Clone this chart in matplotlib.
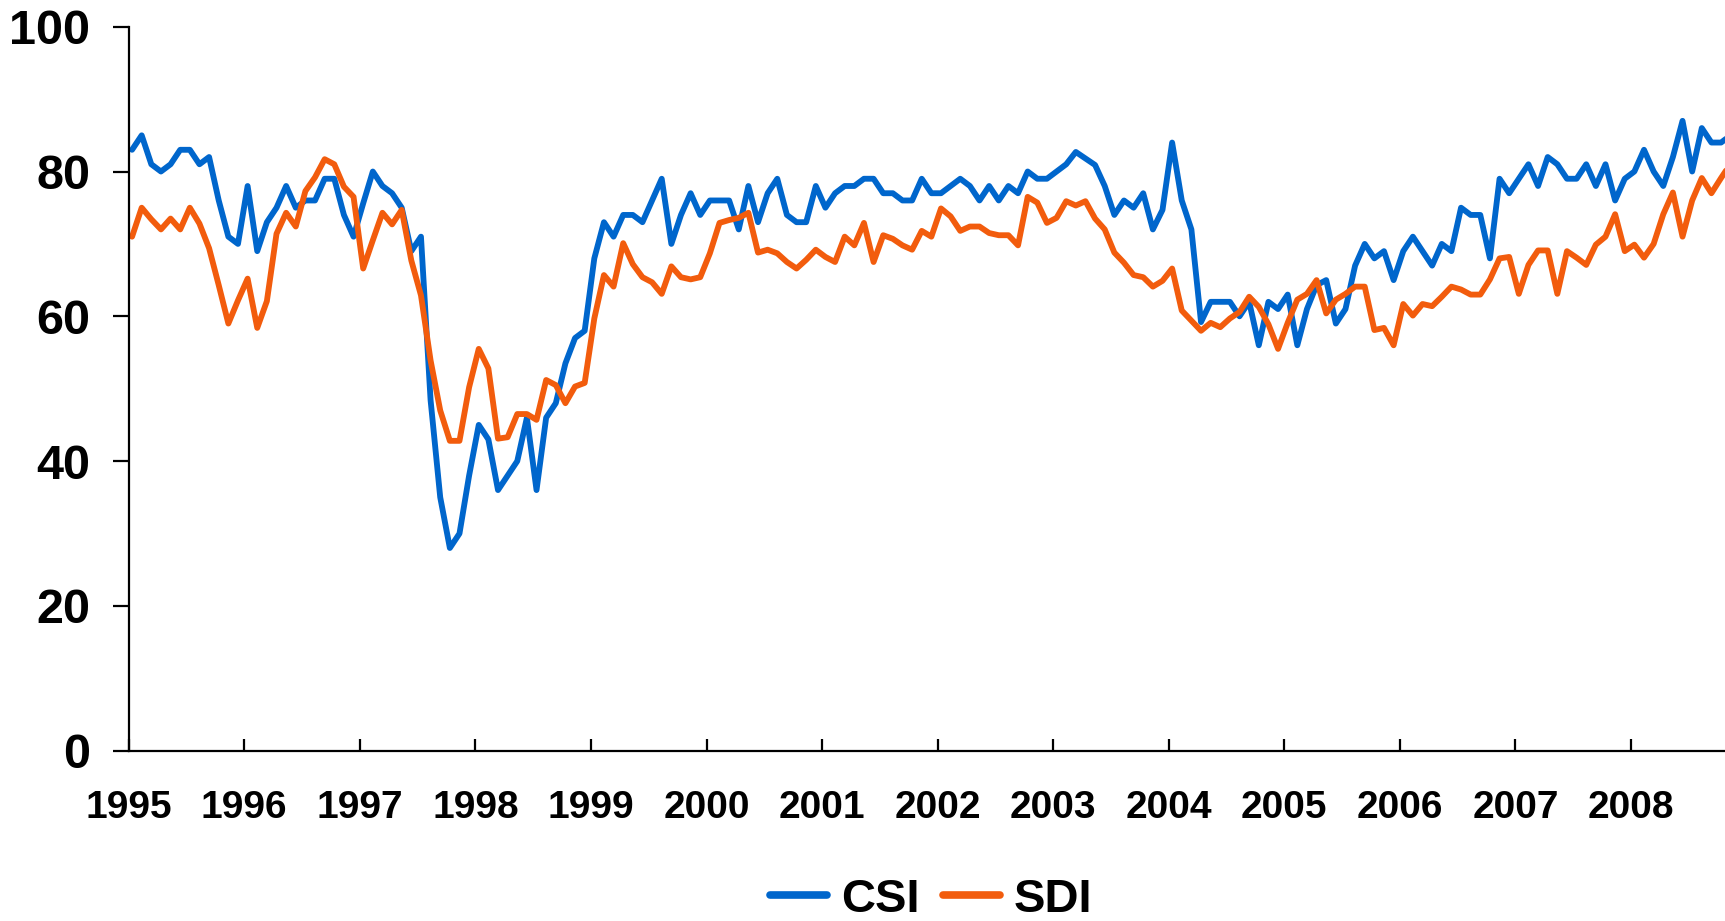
import numpy as np
import matplotlib
matplotlib.use("Agg")
import matplotlib.pyplot as plt
from matplotlib.font_manager import FontProperties

# ---- data (monthly, Jan 1995 onward) ----
years = ["1995", "1996", "1997", "1998", "1999", "2000", "2001",
         "2002", "2003", "2004", "2005", "2006", "2007", "2008"]

csi = [
    83, 85, 81, 80, 81, 83, 83, 81, 82, 76, 71, 70,            # 1995
    78, 69, 73, 75, 78, 75, 76, 76, 79, 79, 74, 71,            # 1996
    75.6, 80, 78, 77, 75, 69, 71, 48.4, 35, 28, 30, 38,        # 1997
    45, 43, 36, 38, 40, 46, 36, 46, 48, 53.5, 57, 58,          # 1998
    68, 73, 71, 74, 74, 73, 76, 79, 70, 74, 77, 74,            # 1999
    76, 76, 76, 72, 78, 73, 77, 79, 74, 73, 73, 78,            # 2000
    75, 77, 78, 78, 79, 79, 77, 77, 76, 76, 79, 77,            # 2001
    77, 78, 79, 78, 76, 78, 76, 78, 77, 80, 79, 79,            # 2002
    80, 81, 82.7, 81.8, 80.9, 78, 74, 76, 75, 77, 72, 74.7,    # 2003
    84, 76, 72, 59.2, 62, 62, 62, 60, 62, 56, 62, 61,          # 2004
    63, 56, 61, 64.3, 65, 59, 61, 67, 70, 68, 69, 65,          # 2005
    69, 71, 69, 67, 70, 69, 75, 74, 74, 68, 79, 77,            # 2006
    79, 81, 78, 82, 81, 79, 79, 81, 78, 81, 76, 79,            # 2007
    80, 83, 80, 78, 82, 87, 80, 86, 84, 84, 85,                # 2008
]

sdi = [
    71, 75, 73.4, 72, 73.5, 72, 75, 72.8, 69.4, 64.3, 59, 62.2,
    65.2, 58.4, 62.1, 71.4, 74.3, 72.4, 77.3, 79.2, 81.7, 81, 77.9, 76.5,
    66.6, 70.5, 74.3, 72.7, 74.7, 67.7, 62.9, 53.9, 47, 42.8, 42.8, 50.2,
    55.5, 52.8, 43.1, 43.3, 46.5, 46.5, 45.7, 51.2, 50.5, 48, 50.3, 50.8,
    59.7, 65.7, 64.1, 70.1, 67.2, 65.4, 64.7, 63.1, 66.9, 65.4, 65.1, 65.4,
    68.7, 72.9, 73.3, 73.6, 74.3, 68.8, 69.2, 68.7, 67.5, 66.6, 67.8, 69.2,
    68.2, 67.5, 71, 69.8, 72.9, 67.5, 71.2, 70.7, 69.8, 69.2, 71.8, 71,
    74.9, 73.8, 71.8, 72.4, 72.4, 71.5, 71.2, 71.2, 69.8, 76.5, 75.7, 72.9,
    73.6, 75.9, 75.3, 75.9, 73.5, 72, 68.8, 67.4, 65.7, 65.4, 64.1, 64.9,
    66.6, 60.8, 59.4, 58, 59.1, 58.5, 59.7, 60.6, 62.7, 61.3, 58.9, 55.5,
    59.1, 62.3, 63.1, 65, 60.4, 62.3, 63.1, 64.1, 64.1, 58.1, 58.4, 56,
    61.7, 60.1, 61.7, 61.4, 62.7, 64.1, 63.7, 63, 63, 65.1, 68, 68.2,
    63.1, 67.1, 69.1, 69.1, 63.1, 69, 68.1, 67.1, 69.9, 71, 74.1, 69,
    69.9, 68.1, 70, 74.1, 77.1, 71, 76, 79.1, 77, 79.1, 81.1,
]

series_names = ["CSI", "SDI"]
colors = ["#0066CC", "#F25C0D"]

# ---- plotting ----
plt.rcParams['font.family'] = ['Liberation Sans', 'DejaVu Sans']

fig = plt.figure(figsize=(17.25, 9.21), dpi=100)
ax = fig.add_axes([0.0746, 0.1849, 1 - 0.0746, 0.971 - 0.1849])

offset = 0.35
x = np.arange(len(csi)) + offset
for vals, name, c in zip([csi, sdi], series_names, colors):
    ax.plot(x, vals, color=c, lw=4.2, label=name,
            solid_joinstyle='round', solid_capstyle='round')

ax.set_ylim(0, 100)
ax.set_xlim(0, 165.76)

ax.spines['top'].set_visible(False)
ax.spines['right'].set_visible(False)
for s in ['left', 'bottom']:
    ax.spines[s].set_linewidth(1.6)

ax.set_yticks([0, 20, 40, 60, 80, 100])
ax.set_yticklabels(["0", "20", "40", "60", "80", "100"],
                   fontsize=35, fontweight='bold')
ax.set_xticks([12 * k for k in range(len(years))])
ax.set_xticklabels(years, fontsize=28, fontweight='bold')

ax.tick_params(axis='y', direction='out', length=11.5, width=1.6, pad=16)
ax.tick_params(axis='x', direction='in', length=8.6, width=1.6, pad=28)

leg = fig.legend(loc='center', bbox_to_anchor=(0.54, 0.0233), ncol=2,
                 frameon=False,
                 prop=FontProperties(family='Liberation Sans', weight='bold', size=34),
                 handlelength=1.2, handletextpad=0.3, columnspacing=0.5)
for h in leg.get_lines():
    h.set_linewidth(5.5)
    h.set_solid_capstyle('round')

fig.savefig("out.png", dpi=100)
